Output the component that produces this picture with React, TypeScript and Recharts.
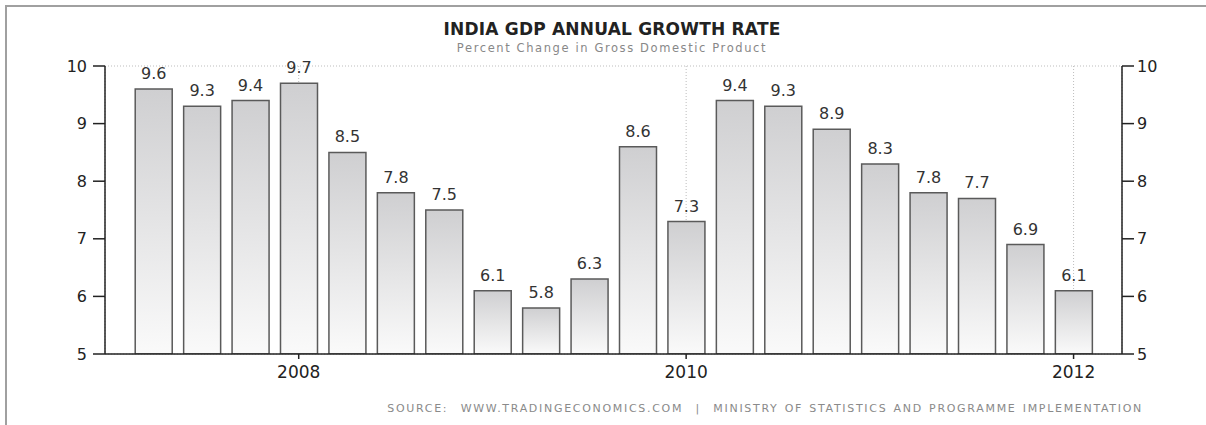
import React from 'react';
import { BarChart, Bar, XAxis, YAxis, CartesianGrid, LabelList } from 'recharts';

// quarterly growth, Q1 2007 .. Q4 2011
const quarters = [
  '2007Q1', '2007Q2', '2007Q3', '2007Q4',
  '2008Q1', '2008Q2', '2008Q3', '2008Q4',
  '2009Q1', '2009Q2', '2009Q3', '2009Q4',
  '2010Q1', '2010Q2', '2010Q3', '2010Q4',
  '2011Q1', '2011Q2', '2011Q3', '2011Q4',
];
const growth = [9.6, 9.3, 9.4, 9.7, 8.5, 7.8, 7.5, 6.1, 5.8, 6.3, 8.6, 7.3, 9.4, 9.3, 8.9, 8.3, 7.8, 7.7, 6.9, 6.1];
const yearTicks = [4, 12, 20];
const yearLabels = ['2008', '2010', '2012'];
const yTicks = [5, 6, 7, 8, 9, 10];

const data = quarters.map((q, i) => ({ idx: i + 1, quarter: q, value: growth[i] }));

const FONT = '"DejaVu Sans", Verdana, sans-serif';

const App: React.FC = () => {
  return (
    <div style={{ position: 'absolute', left: 0, top: 0, width: 1206, height: 425, background: '#fff', fontFamily: FONT }}>
      <div style={{ position: 'absolute', left: 5, top: 5, right: 0, bottom: 0, borderTop: '2px solid #a0a0a0', borderLeft: '2px solid #a0a0a0' }} />
      <div style={{ position: 'absolute', left: 0, width: 1224, top: 19, textAlign: 'center', fontSize: 17, fontWeight: 'bold', color: '#222', letterSpacing: 0.2 }}>
        INDIA GDP ANNUAL GROWTH RATE
      </div>
      <div style={{ position: 'absolute', left: 0, width: 1224, top: 41, textAlign: 'center', fontSize: 11.5, color: '#888', letterSpacing: 1.6 }}>
        Percent Change in Gross Domestic Product
      </div>
      <div style={{ position: 'absolute', right: 63, top: 402, fontSize: 11, color: '#8a8a8a', letterSpacing: 1.7, wordSpacing: 1, whiteSpace: 'pre' }}>
        SOURCE:  WWW.TRADINGECONOMICS.COM  |  MINISTRY OF STATISTICS AND PROGRAMME IMPLEMENTATION
      </div>
      <div style={{ position: 'absolute', left: 0, top: 0 }}>
        <BarChart width={1206} height={425} data={data} margin={{ top: 66, right: 24, left: 45, bottom: 41 }}>
          <defs>
            <linearGradient id="barFill" x1="0" y1="0" x2="0" y2="1">
              <stop offset="0%" stopColor="#cfcfd1" />
              <stop offset="100%" stopColor="#fafafa" />
            </linearGradient>
          </defs>
          <CartesianGrid stroke="#bdbdbd" strokeDasharray="1 2" />
          <XAxis
            dataKey="idx"
            type="number"
            domain={[0, 21]}
            ticks={yearTicks}
            tickFormatter={(v: number) => yearLabels[yearTicks.indexOf(v)] ?? ''}
            height={30}
            tickSize={5}
            tickMargin={7}
            stroke="#222"
            strokeWidth={1.5}
            tick={{ fill: '#222', fontSize: 17, fontFamily: FONT }}
          />
          <YAxis
            yAxisId="left"
            orientation="left"
            domain={[5, 10]}
            ticks={yTicks}
            width={60}
            tickSize={12}
            tickMargin={6}
            stroke="#222"
            strokeWidth={1.5}
            allowDataOverflow
            tick={{ fill: '#222', fontSize: 16, fontFamily: FONT }}
          />
          <YAxis
            yAxisId="right"
            orientation="right"
            domain={[5, 10]}
            ticks={yTicks}
            width={60}
            tickSize={12}
            tickMargin={3}
            stroke="#222"
            strokeWidth={1.5}
            allowDataOverflow
            tick={{ fill: '#222', fontSize: 16, fontFamily: FONT }}
          />
          <Bar
            yAxisId="left"
            dataKey="value"
            barSize={37}
            fill="url(#barFill)"
            stroke="#5a5a5a"
            strokeWidth={1.5}
            isAnimationActive={false}
          >
            <LabelList dataKey="value" position="top" offset={10} fill="#333" fontSize={16} fontFamily={FONT} />
          </Bar>
        </BarChart>
      </div>
    </div>
  );
};

export default App;
